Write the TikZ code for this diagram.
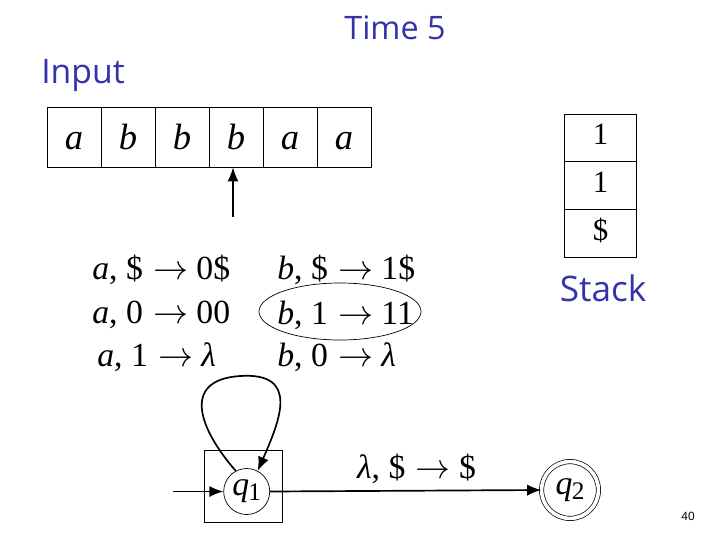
\documentclass[tikz,border=0pt]{standalone}
\usepackage{fontspec}
\setmainfont{Liberation Serif}
\newfontfamily\bluefont{Open Sans}
\newfontfamily\numfont{Liberation Sans}
\usetikzlibrary{arrows.meta}
\definecolor{slideblue}{RGB}{51,51,170}
\tikzset{
  bluelabel/.style={text=slideblue, inner sep=0pt},
  tapecell/.style={draw, line width=0.6pt, minimum width=1.35cm, minimum height=1.5cm, inner sep=0pt, font=\fontsize{26}{28}\selectfont\itshape},
  stackcell/.style={draw, line width=0.6pt, minimum width=1.8cm, minimum height=1.19cm, inner sep=0pt, text height=0.42cm, text depth=0.08cm, font=\fontsize{22}{24}\selectfont},
  trans/.style={anchor=west, inner sep=0pt, font=\fontsize{24}{26}\selectfont},
  state/.style={circle, draw, line width=0.5pt, minimum size=1.15cm, inner sep=0pt, font=\fontsize{24}{26}\selectfont},
  arr/.style={line width=1.2pt, -{Latex[length=10pt,width=8pt]}},
}
\newcommand{\ar}{\hspace{0.3em}$\rightarrow$\hspace{0.25em}}
\newcommand{\qsub}[1]{\textit{q}\kern-0.02em\raisebox{-0.3ex}{\fontsize{18}{18}\selectfont #1}}
\newcommand{\tl}[1]{\raisebox{-0.08cm}[0.45cm][0pt]{#1}}
\begin{document}
\begin{tikzpicture}[x=0.025cm,y=-0.025cm]
\useasboundingbox (0,0) rectangle (720,540);
% titles
\node[bluelabel, font=\bluefont\fontsize{23}{26}\selectfont] (title) at (395,28) {Time 5};
\node[bluelabel, font=\bluefont\fontsize{24}{26}\selectfont] (input) at (83,76) {Input};
\node[bluelabel, font=\bluefont\fontsize{25}{28}\selectfont] (stack) at (603,288) {Stack};
% tape
\node[tapecell] (c1) at (74,137) {\tl{a}};
\node[tapecell] (c2) at (128,137) {\tl{b}};
\node[tapecell] (c3) at (182,137) {\tl{b}};
\node[tapecell] (c4) at (236,137) {\tl{b}};
\node[tapecell] (c5) at (290,137) {\tl{a}};
\node[tapecell] (c6) at (344,137) {\tl{a}};
\coordinate (head) at (233,217);
\draw[arr] (head) -- (head |- c4.south);
% stack
\node[stackcell] (s1) at (600.5,138) {1};
\node[stackcell] (s2) at (600.5,185.6) {1};
\node[stackcell] (s3) at (600.5,233.2) {\$};
% transitions
\node[trans] (t1) at (92,270) {\textit{a}, \$\ar 0\$};
\node[trans] (t2) at (92,315) {\textit{a}, 0\ar 00};
\node[trans] (t3) at (97,357) {\textit{a}, 1\ar \textit{λ}};
\node[trans] (t4) at (277,270) {\textit{b}, \$\ar 1\$};
\node[trans] (t5) at (277,315) {\textit{b}, 1\ar 11};
\node[trans] (t6) at (277,357) {\textit{b}, 0\ar \textit{λ}};
\draw[line width=0.5pt] (340,311.5) ellipse [x radius=81, y radius=28.5];
% states
\node[draw, line width=0.5pt, minimum width=1.95cm, minimum height=1.8cm] (q1box) at (243.3,486) {};
\node[state] (q1) at (246.7,491.5) {\qsub{1}};
\node[state, double, double distance=0.09cm, minimum size=1.42cm] (q2) at (570,490) {\qsub{2}};
\coordinate (start) at (173,491.5);
\draw[arr] (start) -- (q1.west);
\draw[arr] (q1.east) -- node[pos=0.54, above=1pt, font=\fontsize{24}{26}\selectfont] (lab) {\textit{λ}, \$\ar \$} (q2.west);
\draw[arr] (q1.118) .. controls (200,430) and (180,380) .. (240,376) .. controls (300,372) and (280,420) .. (q1.62);
% page number
\node[font=\numfont\fontsize{8.5}{10}\selectfont, inner sep=0pt] (pg) at (688,516) {40};
\end{tikzpicture}
\end{document}
